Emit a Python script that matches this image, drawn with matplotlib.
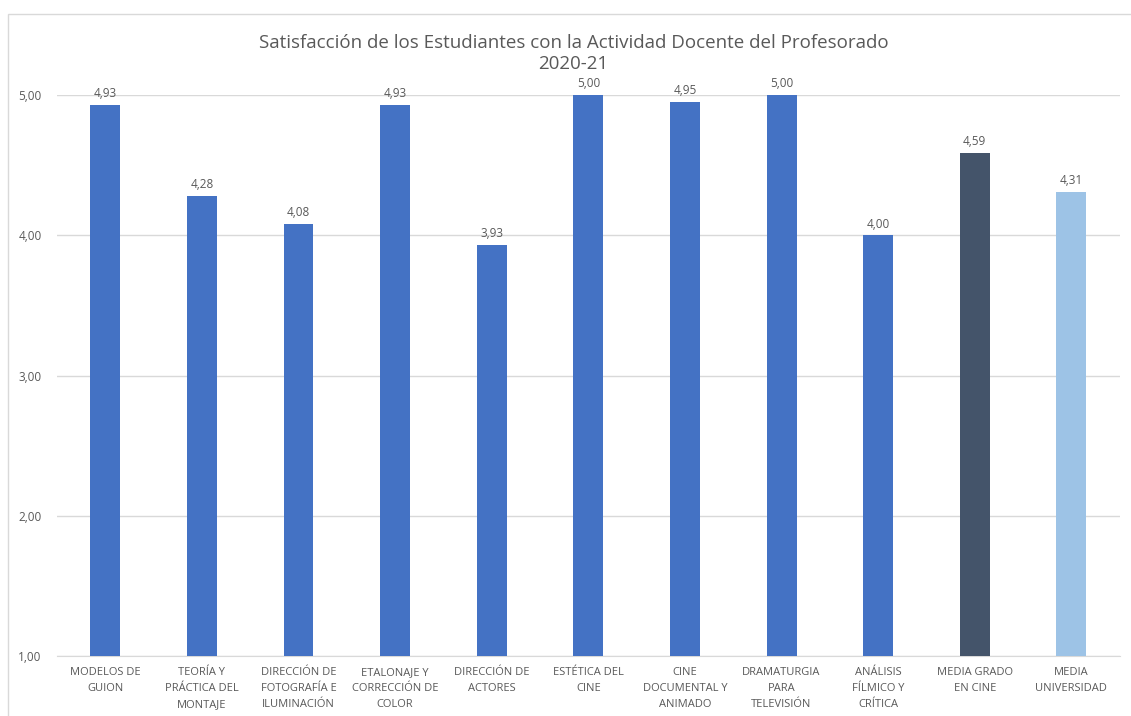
import numpy as np
import matplotlib.pyplot as plt
from matplotlib.patches import Rectangle

categories = ['MODELOS DE\nGUION', 'TEORÍA Y\nPRÁCTICA DEL\nMONTAJE',
              'DIRECCIÓN DE\nFOTOGRAFÍA E\nILUMINACIÓN', 'ETALONAJE Y\nCORRECCIÓN DE\nCOLOR',
              'DIRECCIÓN DE\nACTORES', 'ESTÉTICA DEL\nCINE', 'CINE\nDOCUMENTAL Y\nANIMADO',
              'DRAMATURGIA\nPARA\nTELEVISIÓN', 'ANÁLISIS\nFÍLMICO Y\nCRÍTICA',
              'MEDIA GRADO\nEN CINE', 'MEDIA\nUNIVERSIDAD']
values = [4.93, 4.28, 4.08, 4.93, 3.93, 5.00, 4.95, 5.00, 4.00, 4.59, 4.31]
bar_colors = ['#4472C4'] * 9 + ['#44546A', '#9DC3E6']

plt.rcParams['font.family'] = ['Open Sans', 'DejaVu Sans']
txt = '#595959'

fig = plt.figure(figsize=(11.31, 7.16), dpi=100)
fig.patches.append(Rectangle((8 / 1131, -0.1), 1.2, 1.1 - 14 / 716, transform=fig.transFigure,
                             fill=False, edgecolor='#D9D9D9', linewidth=1))
ax = fig.add_axes([0.0504, 0.0838, 0.9396, 0.7832])

x = np.arange(len(categories))
bars = ax.bar(x, values, width=0.31, color=bar_colors, zorder=3)
for xi, v in zip(x, values):
    ax.text(xi, v + 0.035, f'{v:.2f}'.replace('.', ','), ha='center', va='bottom',
            fontsize=8.5, color=txt)

ax.set_ylim(1, 5)
ax.set_xlim(-0.5, len(categories) - 0.5)
ax.set_yticks([1, 2, 3, 4, 5])
ax.set_yticklabels(['1,00', '2,00', '3,00', '4,00', '5,00'])
ax.set_xticks(x)
ax.set_xticklabels(categories, fontsize=8, color=txt, linespacing=1.6)
ax.tick_params(axis='y', labelsize=8.5, labelcolor=txt, length=0, pad=11)
ax.tick_params(axis='x', length=0, pad=8)
ax.grid(axis='y', color='#D9D9D9', linewidth=1, zorder=0)
for s in ['top', 'right', 'left']:
    ax.spines[s].set_visible(False)
ax.spines['bottom'].set_color('#D9D9D9')
ax.set_axisbelow(True)

fig.text(0.507, 0.925, 'Satisfacción de los Estudiantes con la Actividad Docente del Profesorado\n2020-21',
         ha='center', va='center', fontsize=13.5, color=txt, linespacing=1.2)

fig.savefig('out.png', dpi=100)
